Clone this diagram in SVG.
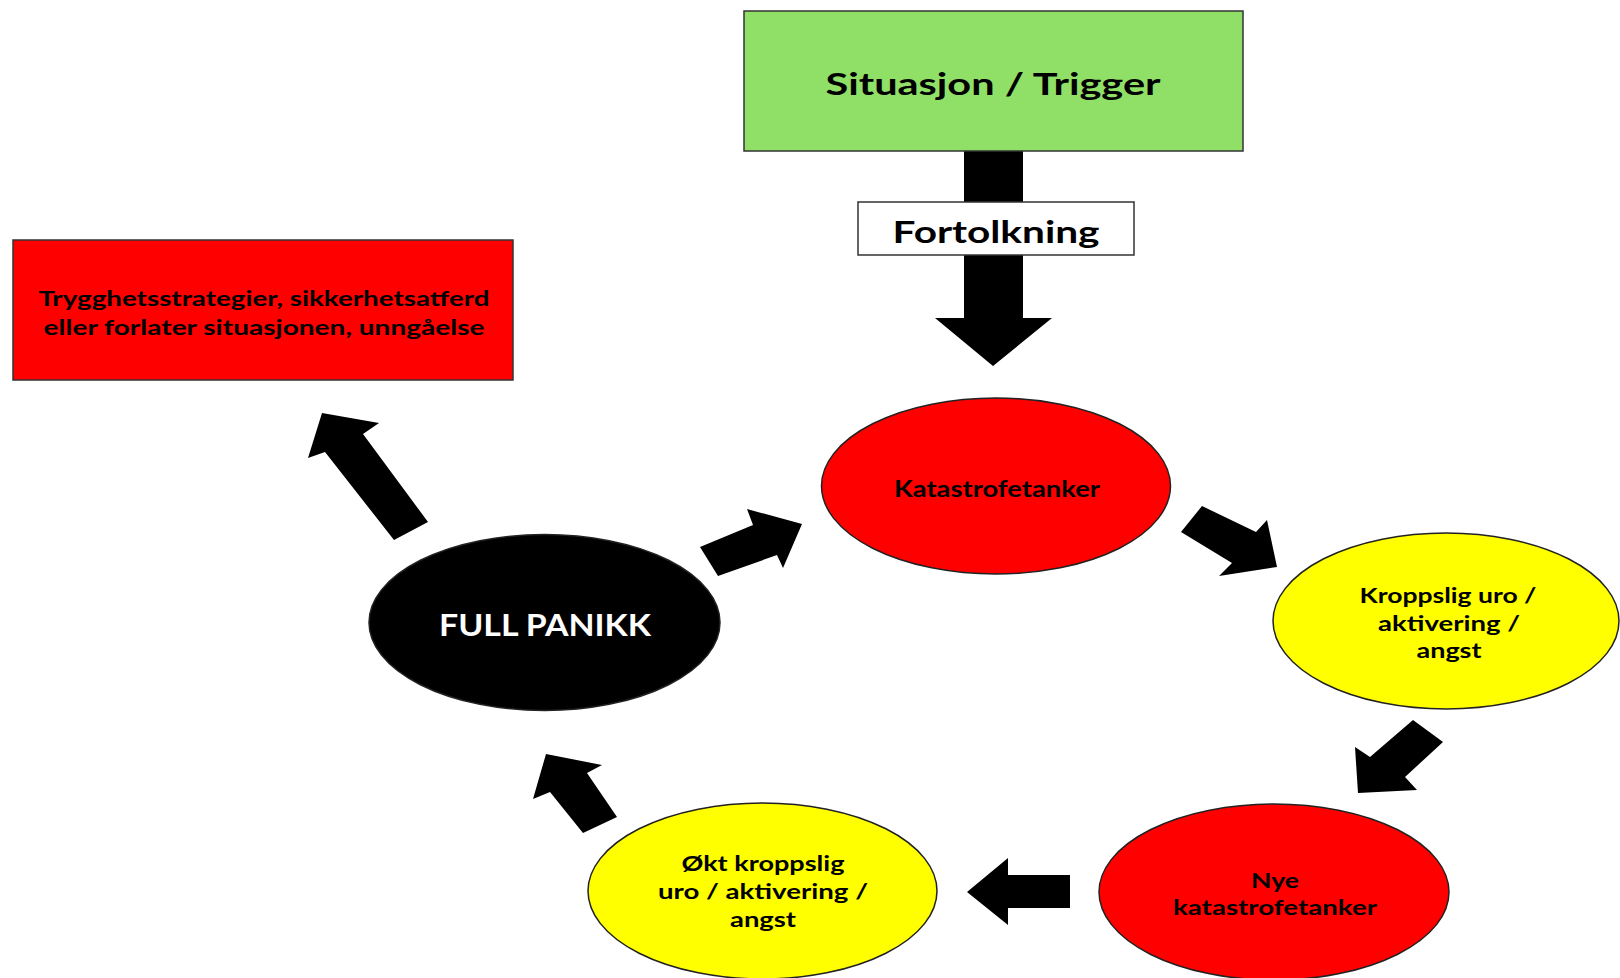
<svg xmlns="http://www.w3.org/2000/svg" width="1620" height="978" viewBox="0 0 1620 978">
<style>
  text { font-family: "Lato", "Liberation Sans", sans-serif; font-weight: bold; text-anchor: middle; fill: #000; }
  .box { stroke: #333; stroke-width: 1.5; }
  .oval { stroke: #222; stroke-width: 1.5; }
  .arrow { fill: #000; stroke: none; }
  .red { fill: #FF0000; }
  .yellow { fill: #FFFF00; }
</style>
<rect width="1620" height="978" fill="#ffffff"/>

<g id="connectors">
  <polygon class="arrow" points="964,150 1023,150 1023,318 1052,318 993,366 935,318 964,318"/>
  <polygon class="arrow" points="1202,506 1256,532 1267,520 1277,567 1219,576 1232,563 1181,532"/>
  <polygon class="arrow" points="1413,720 1443,742 1405,777 1417,790 1358,793 1355,747 1370,757"/>
  <polygon class="arrow" points="967,892 1008,858 1008,875 1070,875 1070,908 1008,908 1008,925"/>
  <polygon class="arrow" points="546,754 602,765 587,773 617,817 583,833 550,792 533,799"/>
  <polygon class="arrow" points="700,547 753,525 747,509 802,524 783,568 777,555 718,576"/>
  <polygon class="arrow" points="322,413 379,423 363,434 428,522 394,540 325,452 308,458"/>
</g>

<g id="situasjon">
  <rect class="box" x="744" y="11" width="499" height="140" fill="#90E068"/>
  <text x="993" y="95" font-size="31" textLength="335" lengthAdjust="spacingAndGlyphs">Situasjon / Trigger</text>
</g>

<g id="fortolkning">
  <rect class="box" x="858" y="202" width="276" height="53" fill="#ffffff"/>
  <text x="996" y="243" font-size="31" textLength="207" lengthAdjust="spacingAndGlyphs">Fortolkning</text>
</g>

<g id="trygghetsstrategier">
  <rect class="box red" x="13" y="240" width="500" height="140"/>
  <text x="264" y="306" font-size="21" textLength="451" lengthAdjust="spacingAndGlyphs">Trygghetsstrategier, sikkerhetsatferd</text>
  <text x="264" y="335" font-size="21" textLength="441" lengthAdjust="spacingAndGlyphs">eller forlater situasjonen, unngåelse</text>
</g>

<g id="katastrofetanker">
  <ellipse class="oval red" cx="996" cy="486" rx="174.5" ry="88"/>
  <text x="997" y="497" font-size="22" textLength="206" lengthAdjust="spacingAndGlyphs">Katastrofetanker</text>
</g>

<g id="kroppslig">
  <ellipse class="oval yellow" cx="1446" cy="621" rx="173" ry="88"/>
  <text x="1448" y="603" font-size="21" textLength="177" lengthAdjust="spacingAndGlyphs">Kroppslig uro /</text>
  <text x="1449" y="631" font-size="21" textLength="142" lengthAdjust="spacingAndGlyphs">aktivering /</text>
  <text x="1449" y="658" font-size="21" textLength="65" lengthAdjust="spacingAndGlyphs">angst</text>
</g>

<g id="nye-katastrofetanker">
  <ellipse class="oval red" cx="1274" cy="892" rx="175" ry="88"/>
  <text x="1275" y="888" font-size="21" textLength="48" lengthAdjust="spacingAndGlyphs">Nye</text>
  <text x="1275" y="915" font-size="21" textLength="204" lengthAdjust="spacingAndGlyphs">katastrofetanker</text>
</g>

<g id="okt-kroppslig">
  <ellipse class="oval yellow" cx="762.5" cy="891" rx="174.5" ry="88"/>
  <text x="763" y="871" font-size="21" textLength="163" lengthAdjust="spacingAndGlyphs">Økt kroppslig</text>
  <text x="763" y="899" font-size="21" textLength="210" lengthAdjust="spacingAndGlyphs">uro / aktivering /</text>
  <text x="763" y="927" font-size="21" textLength="66" lengthAdjust="spacingAndGlyphs">angst</text>
</g>

<g id="full-panikk">
  <ellipse class="oval" cx="544.5" cy="622.5" rx="175.5" ry="88" fill="#000"/>
  <text x="545" y="636" font-size="30" style="fill:#ffffff" textLength="212" lengthAdjust="spacingAndGlyphs">FULL PANIKK</text>
</g>
</svg>
